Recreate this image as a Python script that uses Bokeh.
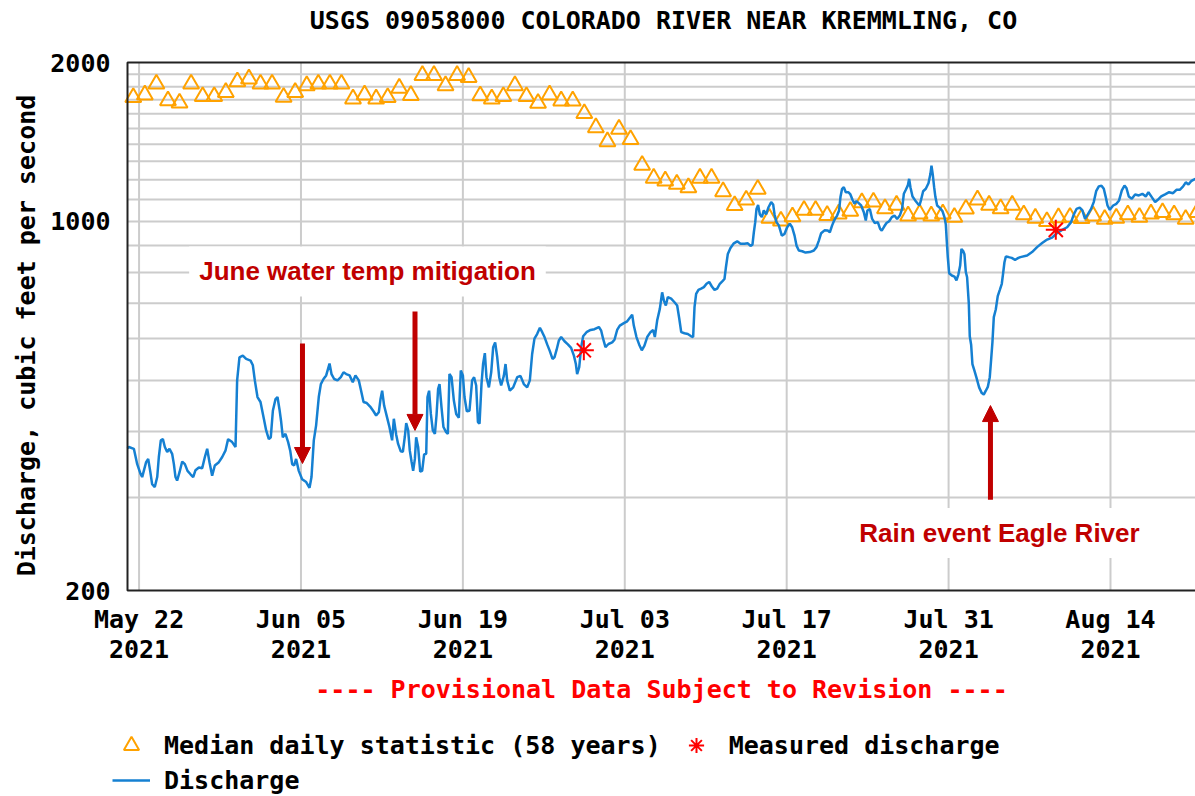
import math
from datetime import datetime, timedelta

from bokeh.plotting import figure
from bokeh.models import Range1d, Label, Arrow, NormalHead, Legend, LegendItem, ColumnDataSource
from bokeh.core.properties import value
from bokeh.embed import file_html
from bokeh.resources import INLINE

# ---------------- data ----------------
START = datetime(2021, 5, 21)
EPOCH = datetime(1970, 1, 1)

tick_dates = ["2021-05-22", "2021-06-05", "2021-06-19", "2021-07-03",
              "2021-07-17", "2021-07-31", "2021-08-14"]
y_major_ticks = [200, 1000, 2000]
y_grid_values = [300, 400, 500, 600, 700, 800, 900, 1100, 1200, 1300,
                 1400, 1500, 1600, 1700, 1800, 1900, 1000]

# axis limits of the plot area (days after 2021-05-21 00:00, cfs)
X_FIRST_DAY, X_LAST_DAY = 0.0, 92.35
Y_MIN, Y_MAX = 200, 2000

# median daily statistic, one value per day, May 21 .. Aug 21 2021
median_cfs = [
    1717, 1737, 1821, 1693, 1677, 1821, 1725, 1725, 1756, 1840, 1863,          # May 21-31
    1821, 1821, 1719, 1756, 1809, 1821, 1821, 1821, 1707, 1737,                # Jun 1-10
    1707, 1717, 1789, 1733, 1891, 1891, 1809, 1891, 1875, 1731,                # Jun 11-20
    1707, 1725, 1809, 1725, 1675, 1737, 1692, 1692, 1602, 1506,                # Jun 21-30
    1417, 1496, 1430, 1278, 1208, 1194, 1177, 1159, 1208, 1208,                # Jul 1-10
    1139, 1072, 1098, 1151, 1015, 1002, 1021, 1050, 1050, 1027,                # Jul 11-20
    1034, 1046, 1086, 1089, 1058, 1074, 1025, 1034, 1025, 1034, 1019,          # Jul 21-31
    1056, 1099, 1074, 1058, 1074, 1030, 1015, 1000, 1017, 1019,                # Aug 1-10
    1013, 1025, 1010, 1015, 1030, 1019, 1034, 1040, 1030, 1010, 1040,          # Aug 11-21
]

# discharge: days after 2021-05-21 00:00 and cfs
discharge_day = [
    0.00, 0.12, 0.55, 0.84, 1.12, 1.27, 1.41, 1.61, 1.79, 1.96, 2.13, 2.36, 2.57, 2.71, 2.88,
    3.06, 3.23, 3.43, 3.63, 3.86, 4.01, 4.15, 4.29, 4.50, 4.73, 4.96, 5.19, 5.45, 5.68, 5.88,
    6.17, 6.46, 6.69, 6.89, 7.09, 7.32, 7.55, 7.90, 8.19, 8.47, 8.70, 9.05, 9.34, 9.45, 9.48,
    9.68, 9.97, 10.26, 10.64, 10.84, 11.01, 11.24, 11.50, 11.79, 11.99, 12.22, 12.39, 12.57,
    12.80, 12.97, 13.14, 13.29, 13.43, 13.66, 13.89, 14.07, 14.24, 14.41, 14.58, 14.81, 15.10,
    15.45, 15.74, 15.91, 16.11, 16.31, 16.54, 16.72, 16.95, 17.18, 17.47, 17.64, 17.87, 18.16,
    18.45, 18.68, 18.91, 19.20, 19.48, 19.71, 20.00, 20.18, 20.41, 20.69, 20.98, 21.27, 21.50,
    21.73, 21.88, 22.02, 22.19, 22.45, 22.65, 22.88, 23.03, 23.23, 23.40, 23.63, 23.81, 23.98,
    24.10, 24.27, 24.41, 24.56, 24.70, 24.85, 24.96, 25.13, 25.31, 25.48, 25.65, 25.83, 25.94,
    26.08, 26.23, 26.40, 26.58, 26.72, 26.86, 26.98, 27.15, 27.32, 27.55, 27.70, 27.84, 28.02,
    28.22, 28.42, 28.65, 28.82, 29.00, 29.14, 29.34, 29.57, 29.80, 29.97, 30.15, 30.30, 30.44,
    30.61, 30.75, 30.90, 31.04, 31.25, 31.45, 31.62, 31.79, 31.97, 32.14, 32.31, 32.54, 32.69,
    32.83, 33.06, 33.35, 33.70, 33.98, 34.27, 34.56, 34.79, 34.99, 35.19, 35.42, 35.66, 35.86,
    36.06, 36.29, 36.52, 36.75, 36.92, 37.10, 37.30, 37.50, 37.79, 38.08, 38.36, 38.60, 38.77,
    38.88, 39.06, 39.23, 39.40, 39.69, 40.04, 40.38, 40.76, 40.96, 41.13, 41.33, 41.59, 41.91,
    42.11, 42.34, 42.57, 42.92, 43.21, 43.49, 43.64, 43.78, 44.01, 44.24, 44.47, 44.70, 44.94,
    45.22, 45.45, 45.60, 45.80, 46.03, 46.23, 46.38, 46.55, 46.72, 47.01, 47.30, 47.53, 47.70,
    47.88, 48.16, 48.45, 48.74, 48.91, 49.03, 49.17, 49.37, 49.60, 49.84, 50.07, 50.30, 50.53,
    50.76, 50.99, 51.22, 51.45, 51.62, 51.74, 51.91, 52.14, 52.43, 52.72, 53.01, 53.35, 53.64,
    53.87, 54.04, 54.16, 54.28, 54.39, 54.53, 54.68, 54.85, 55.02, 55.22, 55.43, 55.66, 55.83,
    55.95, 56.12, 56.32, 56.58, 56.81, 57.04, 57.27, 57.47, 57.68, 57.85, 58.05, 58.34, 58.63,
    59.00, 59.35, 59.58, 59.78, 59.98, 60.27, 60.55, 60.73, 60.93, 61.13, 61.36, 61.53, 61.65,
    61.79, 61.94, 62.11, 62.34, 62.51, 62.69, 62.86, 63.03, 63.23, 63.44, 63.67, 63.84, 63.98,
    64.19, 64.39, 64.62, 64.88, 65.08, 65.22, 65.43, 65.63, 65.86, 66.09, 66.32, 66.55, 66.78,
    66.98, 67.13, 67.30, 67.47, 67.59, 67.70, 67.88, 68.11, 68.34, 68.48, 68.62, 68.80, 69.03,
    69.26, 69.43, 69.52, 69.63, 69.75, 69.86, 70.01, 70.24, 70.47, 70.64, 70.76, 70.84, 70.93,
    71.05, 71.28, 71.51, 71.68, 71.85, 72.00, 72.11, 72.26, 72.37, 72.49, 72.60, 72.75, 72.83,
    72.95, 73.06, 73.24, 73.41, 73.64, 73.87, 74.04, 74.22, 74.39, 74.56, 74.68, 74.79, 74.91,
    75.08, 75.25, 75.43, 75.60, 75.71, 75.83, 75.95, 76.18, 76.46, 76.75, 77.04, 77.21, 77.79,
    78.22, 78.65, 79.09, 79.52, 79.95, 80.38, 80.82, 81.25, 81.59, 81.83, 82.06, 82.34, 82.57,
    82.80, 83.04, 83.32, 83.55, 83.76, 83.99, 84.22, 84.42, 84.59, 84.74, 84.94, 85.23, 85.51,
    85.74, 85.98, 86.21, 86.38, 86.58, 86.84, 87.13, 87.45, 87.76, 88.05, 88.28, 88.57, 88.86,
    89.09, 89.38, 89.72, 90.07, 90.41, 90.70, 90.99, 91.28, 91.51, 91.74, 91.97, 92.20, 92.35,
]
discharge_cfs = [
    372, 374, 371, 347, 333, 328, 337, 350, 355, 337, 318, 314, 328, 358, 385,
    387, 374, 366, 371, 363, 347, 328, 323, 335, 351, 347, 337, 332, 328, 338,
    342, 341, 358, 371, 350, 330, 345, 350, 358, 368, 387, 382, 374, 470, 500,
    553, 557, 549, 545, 534, 500, 465, 455, 423, 402, 387, 390, 438,
    461, 465, 441, 417, 390, 396, 382, 368, 347, 345, 355, 337, 325,
    321, 313, 328, 385, 411, 465, 492, 503, 511, 538, 514, 503, 500,
    507, 518, 514, 511, 496, 511, 500, 480, 455, 453, 446, 437, 429,
    435, 461, 478, 448, 425, 408, 385, 423, 395, 379, 367, 366, 391,
    415, 402, 368, 351, 337, 355, 390, 374, 336, 337, 362, 363, 465,
    478, 432, 402, 396, 429, 482, 492, 445, 408, 399, 396, 514, 507,
    458, 432, 425, 522, 511, 465, 437, 438, 500, 507, 489, 417, 414,
    492, 538, 563, 507, 485, 518, 578, 590, 553, 507, 489, 510, 537,
    500, 478, 485, 507, 510, 492, 485, 500, 561, 600, 612, 629, 617,
    604, 585, 568, 549, 553, 571, 595, 604, 593, 585, 576, 557, 537,
    514, 530, 578, 606, 617, 623, 625, 631, 621, 599, 578, 586, 590,
    597, 623, 635, 642, 647, 659, 666, 635, 604, 585, 570, 582, 604,
    617, 623, 604, 649, 683, 734, 708, 693, 719, 714, 703, 693, 657,
    617, 614, 612, 606, 604, 688, 729, 742, 746, 751, 762, 768, 753,
    742, 746, 762, 771, 778, 817, 868, 891, 909, 917, 907, 907, 909,
    899, 904, 954, 997, 1056, 1074, 1031, 1019, 1049, 1031, 1064, 1088, 1077,
    1031, 997, 983, 940, 947, 975, 990, 975, 940, 900, 881, 878, 873,
    875, 881, 894, 920, 950, 962, 961, 954, 983, 1007, 1026, 1049, 1112,
    1153, 1161, 1136, 1136, 1125, 1099, 1080, 1093, 1083, 1072, 1041, 1004, 1049,
    1056, 1011, 993, 997, 968, 961, 978, 993, 1001, 1019, 1026, 1011, 1026,
    1056, 1128, 1148, 1169, 1204, 1161, 1115, 1096, 1080, 1072, 1099, 1141, 1153,
    1181, 1231, 1276, 1228, 1161, 1112, 1072, 1061, 1046, 1019, 987, 920, 856,
    798, 790, 786, 773, 794, 825, 887, 879, 867, 802, 784, 698, 606,
    584, 537, 521, 506, 485, 473, 470, 478, 486, 507, 548, 590, 659,
    681, 722, 742, 762, 796, 837, 858, 856, 853, 846, 853, 856, 862,
    875, 894, 910, 924, 932, 951, 964, 975, 997, 1031, 1056, 1062, 1049,
    1011, 1031, 1056, 1088, 1141, 1165, 1169, 1153, 1112, 1072, 1052, 1072, 1080,
    1096, 1145, 1169, 1157, 1115, 1104, 1125, 1120, 1128, 1115, 1136, 1112, 1088,
    1099, 1115, 1125, 1136, 1131, 1148, 1148, 1165, 1186, 1175, 1192, 1200, 1204,
]

measured_day = [39.46, 80.27]
measured_cfs = [570, 964]

# annotation arrows (day, from cfs, to cfs)
arrow_day = [15.13, 24.86, 74.62]
arrow_from_cfs = [587, 675, 297]
arrow_to_cfs = [348, 402, 448]


def ms(day):
    return (START + timedelta(days=day) - EPOCH).total_seconds() * 1000.0


def ms_date(s):
    return (datetime.strptime(s, "%Y-%m-%d") - EPOCH).total_seconds() * 1000.0


MONO = "DejaVu Sans Mono"
DARK_RED = "#C00000"
ORANGE = "#FFA200"
BLUE = "#1580D2"
RED = "#FF0000"
GRID = "#cccccc"
BORDER = "#222222"
W, H = 1195, 796
# plot-area placement inside the canvas (pixels)
PA_LEFT, PA_TOP, PA_BOTTOM = 127, 62, 590

# canvas-wide ranges so the plot area lands at the pixels above
px_per_day = (W - PA_LEFT) / (X_LAST_DAY - X_FIRST_DAY)
px_per_decade = (PA_BOTTOM - PA_TOP) / math.log10(Y_MAX / Y_MIN)
x_lo = ms(X_FIRST_DAY - PA_LEFT / px_per_day)
x_hi = ms(X_LAST_DAY)
y_hi = Y_MAX * 10 ** (PA_TOP / px_per_decade)
y_lo = Y_MIN / 10 ** ((H - PA_BOTTOM) / px_per_decade)

p = figure(width=W, height=H, y_axis_type="log",
           x_range=Range1d(x_lo, x_hi), y_range=Range1d(y_lo, y_hi),
           x_axis_location=None, y_axis_location=None,
           output_backend="svg", toolbar_location=None, title=None,
           min_border_left=0, min_border_right=0, min_border_top=0, min_border_bottom=0)
p.outline_line_color = None
p.grid.visible = False
p.background_fill_color = "white"

# grid lines of the plot area
tick_ms = [ms_date(d) for d in tick_dates]
p.segment(x0=tick_ms, y0=[Y_MIN] * len(tick_ms), x1=tick_ms, y1=[Y_MAX] * len(tick_ms),
          line_color=GRID, line_width=2)
p.segment(x0=[ms(X_FIRST_DAY)] * len(y_grid_values), y0=y_grid_values,
          x1=[ms(X_LAST_DAY)] * len(y_grid_values), y1=y_grid_values,
          line_color=GRID, line_width=2)

# data
med_src = ColumnDataSource(dict(x=[ms(i + 0.5) for i in range(len(median_cfs))], y=median_cfs))
tri_r = p.scatter("x", "y", source=med_src, marker="triangle", size=16,
                  fill_color=None, line_color=ORANGE, line_width=2)

dis_src = ColumnDataSource(dict(x=[ms(d) for d in discharge_day], y=discharge_cfs))
line_r = p.line("x", "y", source=dis_src, line_color=BLUE, line_width=2.5)

meas_src = ColumnDataSource(dict(x=[ms(d) for d in measured_day], y=measured_cfs))
ast_r = p.scatter("x", "y", source=meas_src, marker="asterisk", size=20,
                  line_color=RED, line_width=2)

# plot-area border (left, top, bottom)
p.line(x=[ms(X_LAST_DAY), ms(X_FIRST_DAY), ms(X_FIRST_DAY), ms(X_LAST_DAY)],
       y=[Y_MAX, Y_MAX, Y_MIN, Y_MIN], line_color=BORDER, line_width=2)

# tick labels
ytick_src = ColumnDataSource(dict(x=[ms(X_FIRST_DAY)] * len(y_major_ticks), y=y_major_ticks,
                                  text=[str(v) for v in y_major_ticks]))
p.text("x", "y", text="text", source=ytick_src, x_offset=-17,
       text_font=value(MONO), text_font_style="bold", text_font_size="25px",
       text_color="black", text_align="right", text_baseline="middle")
xtick_src = ColumnDataSource(dict(
    x=tick_ms, y=[Y_MIN] * len(tick_ms),
    md=[datetime.strptime(d, "%Y-%m-%d").strftime("%b %d") for d in tick_dates],
    yr=[datetime.strptime(d, "%Y-%m-%d").strftime("%Y") for d in tick_dates]))
p.text("x", "y", text="md", source=xtick_src, y_offset=29,
       text_font=value(MONO), text_font_style="bold", text_font_size="25px",
       text_color="black", text_align="center", text_baseline="middle")
p.text("x", "y", text="yr", source=xtick_src, y_offset=58,
       text_font=value(MONO), text_font_style="bold", text_font_size="25px",
       text_color="black", text_align="center", text_baseline="middle")

# annotation arrows and texts
for d, v0, v1 in zip(arrow_day, arrow_from_cfs, arrow_to_cfs):
    p.add_layout(Arrow(end=NormalHead(size=16, fill_color=DARK_RED, line_color=DARK_RED,
                                      line_width=1),
                       x_start=ms(d), y_start=v0, x_end=ms(d), y_end=v1,
                       line_color=DARK_RED, line_width=5))

p.add_layout(Label(x=ms(20.75), y=804, text="June water temp mitigation",
                   text_font="Liberation Sans", text_font_style="bold",
                   text_font_size="26px", text_color=DARK_RED, text_align="center",
                   text_baseline="middle", background_fill_color="white", padding=10))
p.add_layout(Label(x=ms(75.4), y=257, text="Rain event Eagle River",
                   text_font="Liberation Sans", text_font_style="bold",
                   text_font_size="26px", text_color=DARK_RED, text_align="center",
                   text_baseline="middle", background_fill_color="white", padding=10))

# title, axis label, provisional note (canvas pixels, y from bottom)
p.add_layout(Label(x=663, y=H - 20, x_units="screen", y_units="screen",
                   text="USGS 09058000 COLORADO RIVER NEAR KREMMLING, CO",
                   text_font=MONO, text_font_style="bold", text_font_size="25px",
                   text_color="black", text_align="center", text_baseline="middle"))
p.add_layout(Label(x=25.5, y=H - 335, x_units="screen", y_units="screen", angle=math.pi / 2,
                   text="Discharge, cubic feet per second",
                   text_font=MONO, text_font_style="bold", text_font_size="25px",
                   text_color="black", text_align="center", text_baseline="middle"))
p.add_layout(Label(x=661, y=H - 689, x_units="screen", y_units="screen",
                   text="---- Provisional Data Subject to Revision ----",
                   text_font=MONO, text_font_style="bold", text_font_size="25px",
                   text_color=RED, text_align="center", text_baseline="middle"))


def make_legend(items, loc, gh):
    return Legend(items=items, orientation="horizontal", location=loc,
                  label_text_font=MONO, label_text_font_style="bold",
                  label_text_font_size="25px", label_text_color="black",
                  glyph_width=38, glyph_height=gh, label_height=gh, label_standoff=14,
                  spacing=16, padding=0, margin=0, border_line_color=None,
                  background_fill_alpha=0)


legA = make_legend([LegendItem(label="Median daily statistic (58 years)", renderers=[tri_r]),
                    LegendItem(label="Measured discharge", renderers=[ast_r])],
                   (112, H - 745 - 20), 40)
legB = make_legend([LegendItem(label="Discharge", renderers=[line_r])],
                   (112, H - 780 - 15), 30)
p.add_layout(legA)
p.add_layout(legB)

open("out.html", "w").write(file_html(p, INLINE))
